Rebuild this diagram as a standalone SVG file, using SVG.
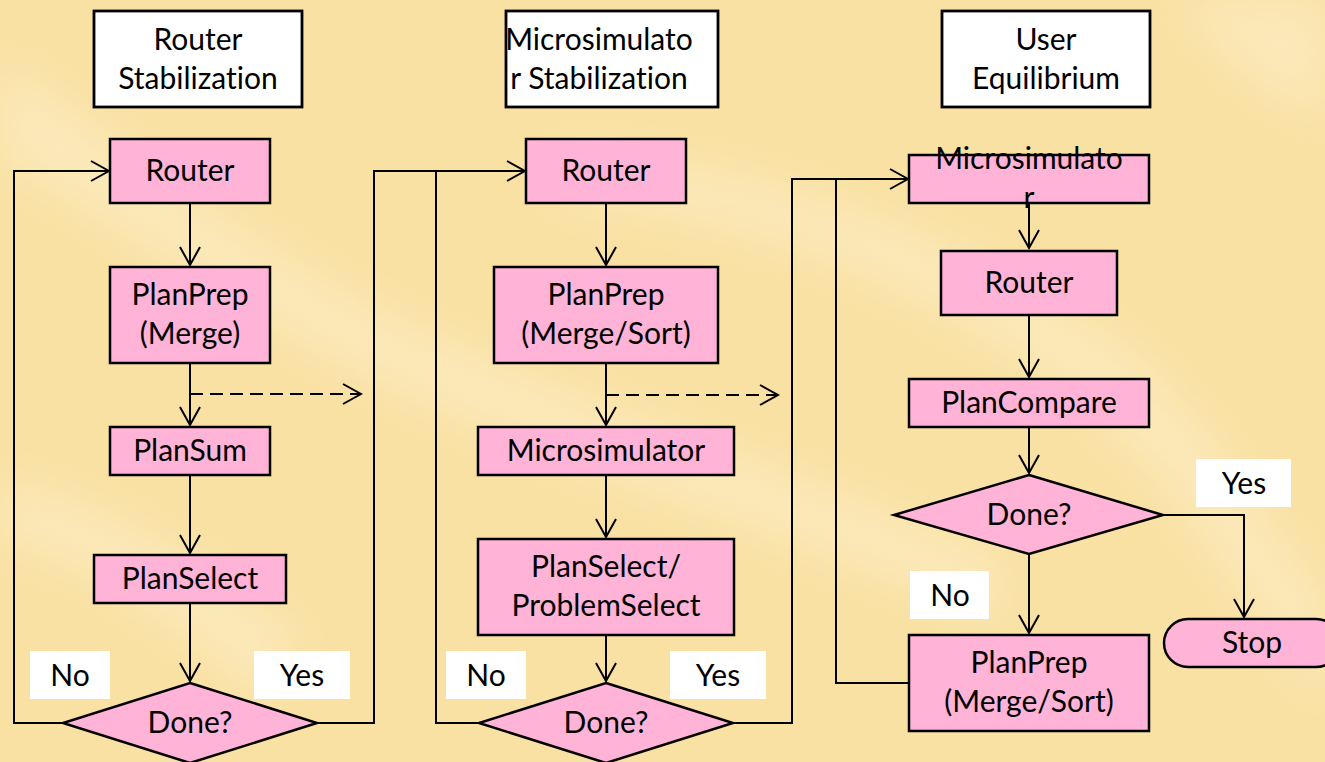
<svg xmlns="http://www.w3.org/2000/svg" width="1325" height="762" viewBox="0 0 1325 762">
<style>
.box{fill:#FFB3D6;stroke:#000;stroke-width:2.5}
.ttl{fill:#fff;stroke:#000;stroke-width:2.8}
.lbl{fill:#fff}
text{font-family:Lato,"Open Sans","Liberation Sans",sans-serif;font-size:30px;text-anchor:middle;fill:#000;font-variant-ligatures:none;font-feature-settings:"liga" 0,"clig" 0,"dlig" 0}
.c{fill:none;stroke:#000;stroke-width:2;marker-end:url(#ah)}
.n{fill:none;stroke:#000;stroke-width:2}
.d{fill:none;stroke:#000;stroke-width:2;stroke-dasharray:13 7;marker-end:url(#ah)}
</style>
<defs>
<marker id="ah" viewBox="-20 -12 22 24" refX="0" refY="0" markerWidth="22" markerHeight="24" markerUnits="userSpaceOnUse" orient="auto">
<path d="M-18,-10 L0,0 L-18,10" fill="none" stroke="#000" stroke-width="2"/>
</marker>
<filter id="blur" x="-20%" y="-20%" width="140%" height="140%"><feGaussianBlur stdDeviation="22"/></filter>
</defs>
<g id="background">
<rect x="0" y="0" width="1325" height="762" fill="#F9E1A3"/>
<g filter="url(#blur)" fill="#FFF3D6" opacity="0.45">
<path d="M0,60 C120,140 260,260 420,330 C600,410 800,470 1000,560 L1000,620 C800,540 600,480 420,400 C260,330 120,220 0,160 Z"/>
<path d="M560,150 C700,160 900,200 1100,330 C1200,400 1260,520 1325,600 L1325,700 C1240,600 1180,480 1080,400 C900,260 700,210 560,200 Z"/>
<path d="M0,480 C100,500 200,560 300,640 L260,700 C180,620 90,560 0,540 Z"/>
<path d="M1180,0 L1325,0 L1325,120 C1280,100 1220,60 1180,0 Z"/>
</g>
</g>
<g id="connectors">
<path class="c" d="M63,723 H14 V171 H109"/>
<path class="c" d="M190,203 V265"/>
<path class="c" d="M190,363 V425"/>
<path class="d" d="M190,394 H361"/>
<path class="c" d="M190,475 V553"/>
<path class="c" d="M190,603 V681"/>
<path class="c" d="M317,723 H374 V171 H525"/>
<path class="n" d="M479,723 H436 V171"/>
<path class="c" d="M606,203 V265"/>
<path class="c" d="M606,363 V425"/>
<path class="d" d="M606,395 H778"/>
<path class="c" d="M606,475 V537"/>
<path class="c" d="M606,635 V681"/>
<path class="c" d="M733,723 H792 V179 H908"/>
<path class="n" d="M909,683 H836 V179"/>
<path class="c" d="M1029,203 V248"/>
<path class="c" d="M1029,315 V377"/>
<path class="c" d="M1029,427 V473"/>
<path class="c" d="M1163,515 H1244 V617"/>
<path class="c" d="M1029,554 V633"/>
</g>
<g id="title-router-stabilization">
<rect class="ttl" x="94" y="11" width="208" height="96"/>
<text x="198" y="50">Router</text>
<text x="198" y="89">Stabilization</text>
</g>
<g id="title-microsimulator-stabilization">
<rect class="ttl" x="506" y="11" width="212" height="96"/>
<text x="599" y="50">Microsimulato</text>
<text x="599" y="89">r Stabilization</text>
</g>
<g id="title-user-equilibrium">
<rect class="ttl" x="942" y="11" width="208" height="96"/>
<text x="1046" y="50">User</text>
<text x="1046" y="89">Equilibrium</text>
</g>
<g id="c1-router">
<rect class="box" x="110" y="139" width="160" height="64"/>
<text x="190" y="181">Router</text>
</g>
<g id="c1-planprep">
<rect class="box" x="110" y="267" width="160" height="96"/>
<text x="190" y="305">PlanPrep</text>
<text x="190" y="344">(Merge)</text>
</g>
<g id="c1-plansum">
<rect class="box" x="110" y="427" width="160" height="48"/>
<text x="190" y="461">PlanSum</text>
</g>
<g id="c1-planselect">
<rect class="box" x="94" y="555" width="192" height="48"/>
<text x="190" y="589">PlanSelect</text>
</g>
<g id="c1-done">
<polygon class="box" points="190,683 317,723 190,763 63,723"/>
<text x="190" y="733">Done?</text>
</g>
<g id="c1-no">
<rect class="lbl" x="30" y="651" width="80" height="48"/>
<text x="70" y="686">No</text>
</g>
<g id="c1-yes">
<rect class="lbl" x="254" y="651" width="96" height="48"/>
<text x="302" y="686">Yes</text>
</g>
<g id="c2-router">
<rect class="box" x="526" y="139" width="160" height="64"/>
<text x="606" y="181">Router</text>
</g>
<g id="c2-planprep">
<rect class="box" x="494" y="267" width="224" height="96"/>
<text x="606" y="305">PlanPrep</text>
<text x="606" y="344">(Merge/Sort)</text>
</g>
<g id="c2-microsimulator">
<rect class="box" x="478" y="427" width="256" height="48"/>
<text x="606" y="461">Microsimulator</text>
</g>
<g id="c2-planselect">
<rect class="box" x="478" y="539" width="256" height="96"/>
<text x="606" y="577">PlanSelect/</text>
<text x="606" y="616">ProblemSelect</text>
</g>
<g id="c2-done">
<polygon class="box" points="606,683 733,723 606,763 479,723"/>
<text x="606" y="733">Done?</text>
</g>
<g id="c2-no">
<rect class="lbl" x="446" y="651" width="80" height="48"/>
<text x="486" y="686">No</text>
</g>
<g id="c2-yes">
<rect class="lbl" x="670" y="651" width="96" height="48"/>
<text x="718" y="686">Yes</text>
</g>
<g id="c3-microsimulator">
<rect class="box" x="909" y="155" width="240" height="48"/>
<text x="1029" y="169">Microsimulato</text>
<text x="1029" y="208">r</text>
</g>
<g id="c3-router">
<rect class="box" x="941" y="251" width="176" height="64"/>
<text x="1029" y="293">Router</text>
</g>
<g id="c3-plancompare">
<rect class="box" x="909" y="379" width="240" height="48"/>
<text x="1029" y="413">PlanCompare</text>
</g>
<g id="c3-done">
<polygon class="box" points="1029,475 1163,515 1029,554 894,515"/>
<text x="1029" y="525">Done?</text>
</g>
<g id="c3-yes">
<rect class="lbl" x="1196" y="459" width="95" height="48"/>
<text x="1244" y="494">Yes</text>
</g>
<g id="c3-no">
<rect class="lbl" x="910" y="571" width="79" height="48"/>
<text x="950" y="606">No</text>
</g>
<g id="c3-planprep">
<rect class="box" x="909" y="635" width="240" height="96"/>
<text x="1029" y="673">PlanPrep</text>
<text x="1029" y="712">(Merge/Sort)</text>
</g>
<g id="c3-stop">
<rect class="box" x="1164" y="619" width="176" height="48" rx="24" ry="24"/>
<text x="1252" y="653">Stop</text>
</g>
</svg>
